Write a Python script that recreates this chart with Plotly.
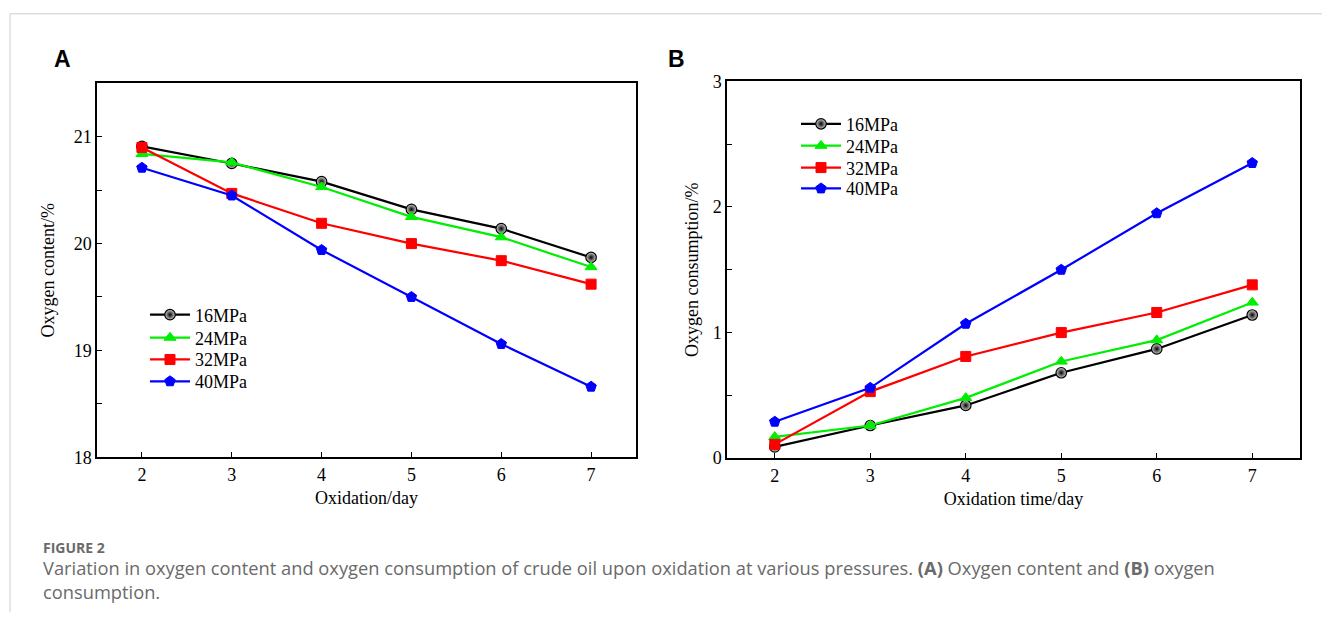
import plotly.graph_objects as go

days = [2, 3, 4, 5, 6, 7]
series_names = ["16MPa", "24MPa", "32MPa", "40MPa"]

# Panel A: oxygen content (%)
content_16 = [20.91, 20.75, 20.58, 20.32, 20.14, 19.87]
content_24 = [20.84, 20.76, 20.53, 20.25, 20.06, 19.78]
content_32 = [20.90, 20.47, 20.19, 20.00, 19.84, 19.62]
content_40 = [20.71, 20.45, 19.94, 19.50, 19.06, 18.66]

# Panel B: oxygen consumption (%)
consump_16 = [0.09, 0.26, 0.42, 0.68, 0.87, 1.14]
consump_24 = [0.17, 0.26, 0.48, 0.77, 0.94, 1.24]
consump_32 = [0.11, 0.53, 0.81, 1.00, 1.16, 1.38]
consump_40 = [0.29, 0.56, 1.07, 1.50, 1.95, 2.35]

colors = ["#000000", "#00ee00", "#ff0000", "#0000ff"]
symbols = ["circle", "triangle-up", "square", "pentagon"]
marker_sizes = [10.5, 10.5, 10, 11]

W, H = 1322, 622
SERIF = "Liberation Serif, Times New Roman, serif"

# the photographed page shows the figure with a small vertical offset/squeeze;
# map target pixel rows to figure rows to compensate
V_SCALE, V_OFF = 0.9735, 8.2

def px_x(p):
    return p / W

def px_y(p):
    return 1 - ((p - V_OFF) / V_SCALE) / H

fig = go.Figure()

# one legend per entry so entry spacing matches the reference
legend_a_rows = [315, 338, 360, 382]
legend_b_rows = [123, 145, 167, 188]
legend_layout = {}

def add_series(ys_list, xaxis, yaxis, first_legend, left_px, rows):
    for i, (name, ys, col, sym, ms) in enumerate(zip(series_names, ys_list, colors, symbols, marker_sizes)):
        marker = dict(symbol=sym, size=ms, color=col, line=dict(color=col, width=1))
        if sym == "circle":
            marker = dict(symbol="circle", size=ms, color="#d0d0d0",
                          gradient=dict(type="radial", color="#000000"),
                          line=dict(color="#000000", width=1.2))
        n = first_legend + i
        lname = "legend" if n == 1 else "legend%d" % n
        legend_layout[lname] = dict(
            x=px_x(left_px), y=px_y(rows[i]), xanchor="left", yanchor="middle",
            bgcolor="rgba(0,0,0,0)", font=dict(family=SERIF, size=18, color="black"),
            itemwidth=40, borderwidth=0,
        )
        fig.add_trace(go.Scatter(
            x=days, y=ys, name=name, mode="lines+markers",
            line=dict(color=col, width=2.2), marker=marker,
            xaxis=xaxis, yaxis=yaxis, legend=lname,
        ))

add_series([content_16, content_24, content_32, content_40], "x", "y", 1, 145, legend_a_rows)
add_series([consump_16, consump_24, consump_32, consump_40], "x2", "y2", 5, 796, legend_b_rows)

axis_common = dict(
    showline=True, linecolor="black", linewidth=1.5, mirror=True,
    ticks="inside", ticklen=5, tickwidth=1.2, tickcolor="black",
    showgrid=False, zeroline=False,
    tickfont=dict(family=SERIF, size=18, color="black"),
    title_font=dict(family=SERIF, size=18, color="black"),
)

fig.update_layout(
    width=W, height=H,
    margin=dict(l=0, r=0, t=0, b=0),
    paper_bgcolor="white", plot_bgcolor="white",
    xaxis=dict(domain=[px_x(97), px_x(636)], range=[1.5, 7.5], anchor="y",
               tickvals=[2, 3, 4, 5, 6, 7],
               title=dict(text="Oxidation/day", standoff=8), **axis_common),
    yaxis=dict(domain=[px_y(458), px_y(82)], range=[18, 21.5], anchor="x",
               tickvals=[18, 19, 20, 21],
               minor=dict(dtick=0.5, ticks="inside", ticklen=5, tickcolor="black", showgrid=False),
               title=dict(text="Oxygen content/%", standoff=14), **axis_common),
    xaxis2=dict(domain=[px_x(727), px_x(1300)], range=[1.5, 7.5], anchor="y2",
                tickvals=[2, 3, 4, 5, 6, 7],
                title=dict(text="Oxidation time/day", standoff=8), **axis_common),
    yaxis2=dict(domain=[px_y(459), px_y(80)], range=[0, 3], anchor="x2",
                tickvals=[0, 1, 2, 3],
                minor=dict(dtick=0.5, ticks="inside", ticklen=5, tickcolor="black", showgrid=False),
                title=dict(text="Oxygen consumption/%", standoff=9), **axis_common),
    showlegend=True,
    **legend_layout,
)

# page frame lines
fig.add_shape(type="line", xref="paper", yref="paper", x0=px_x(10), x1=1, y0=px_y(12), y1=px_y(12),
              line=dict(color="#cccccc", width=1))
fig.add_shape(type="line", xref="paper", yref="paper", x0=px_x(10), x1=px_x(10), y0=px_y(12), y1=0,
              line=dict(color="#cccccc", width=1))

# panel letters
fig.add_annotation(text="<b>A</b>", x=px_x(62), y=px_y(57), xref="paper", yref="paper",
                   xanchor="center", yanchor="middle",
                   showarrow=False, font=dict(family="Liberation Sans, Arial", size=23, color="black"))
fig.add_annotation(text="<b>B</b>", x=px_x(676), y=px_y(57), xref="paper", yref="paper",
                   xanchor="center", yanchor="middle",
                   showarrow=False, font=dict(family="Liberation Sans, Arial", size=23, color="black"))

# caption
fig.add_annotation(text="<b>FIGURE 2</b>", x=px_x(41), y=px_y(549), xref="paper", yref="paper",
                   xanchor="left", yanchor="middle", showarrow=False,
                   font=dict(family="Open Sans", size=14, color="#6a6a6a"))
fig.add_annotation(
    text="Variation in oxygen content and oxygen consumption of crude oil upon oxidation at various pressures. "
         "<b>(A)</b> Oxygen content and <b>(B)</b> oxygen",
    x=px_x(41), y=px_y(569), xref="paper", yref="paper", xanchor="left", yanchor="middle",
    showarrow=False, font=dict(family="Open Sans", size=18.3, color="#6a6a6a"))
fig.add_annotation(
    text="consumption.",
    x=px_x(41), y=px_y(593), xref="paper", yref="paper", xanchor="left", yanchor="middle",
    showarrow=False, font=dict(family="Open Sans", size=18.3, color="#6a6a6a"))

fig.write_html(
    "out.html",
    config={"displayModeBar": False},
    post_script="document.documentElement.style.margin='0';document.body.style.margin='0';"
                "document.documentElement.style.overflow='hidden';document.body.style.overflow='hidden';",
)
